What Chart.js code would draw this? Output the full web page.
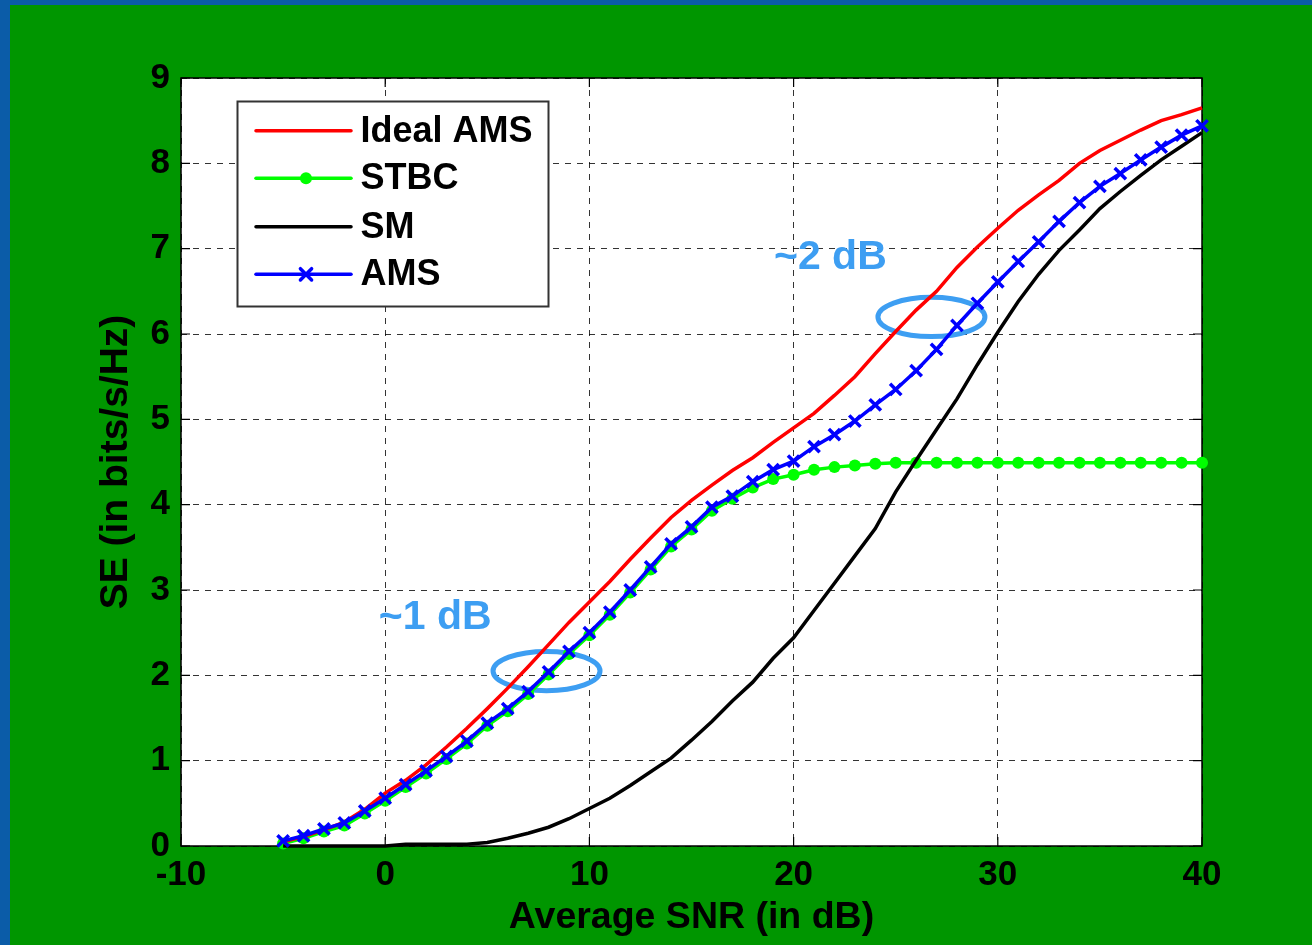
<!DOCTYPE html>
<html>
<head>
<meta charset="utf-8">
<script src="https://cdn.jsdelivr.net/npm/chart.js@4.4.0/dist/chart.umd.min.js"></script>
<style>
  html, body { margin: 0; padding: 0; background: #0b5ca8; }
  #wrap { position: absolute; left: 10px; top: 5px; width: 1302px; height: 940px; background: #009600; }
  canvas { display: block; }
</style>
</head>
<body>
<div id="wrap"><canvas id="seChart" width="1302" height="940"></canvas></div>
<script>
// Average SNR (dB)
const snr = [-5, -4, -3, -2, -1, 0, 1, 2, 3, 4, 5, 6, 7, 8, 9, 10, 11, 12, 13, 14, 15, 16, 17, 18, 19, 20,
  21, 22, 23, 24, 25, 26, 27, 28, 29, 30, 31, 32, 33, 34, 35, 36, 37, 38, 39, 40];

// SE (bits/s/Hz)
const idealAms = [0.05, 0.11, 0.19, 0.28, 0.43, 0.62, 0.77, 0.95, 1.16, 1.38, 1.61, 1.85, 2.10, 2.36, 2.62, 2.86,
  3.10, 3.36, 3.61, 3.85, 4.05, 4.23, 4.40, 4.55, 4.73, 4.90, 5.07, 5.28, 5.50, 5.77, 6.03, 6.28, 6.50, 6.78,
  7.02, 7.24, 7.45, 7.63, 7.80, 8.00, 8.15, 8.27, 8.39, 8.50, 8.57, 8.65];
const stbc = [0.03, 0.09, 0.17, 0.24, 0.38, 0.53, 0.69, 0.85, 1.02, 1.20, 1.41, 1.58, 1.78, 2.01, 2.25, 2.47,
  2.71, 2.97, 3.24, 3.51, 3.71, 3.93, 4.07, 4.20, 4.30, 4.35, 4.41, 4.44, 4.46, 4.48, 4.49, 4.49, 4.49, 4.49,
  4.49, 4.49, 4.49, 4.49, 4.49, 4.49, 4.49, 4.49, 4.49, 4.49, 4.49, 4.49];
const sm = [0, 0, 0, 0, 0, 0, 0.02, 0.02, 0.02, 0.02, 0.04, 0.09, 0.15, 0.22, 0.32, 0.44,
  0.56, 0.71, 0.87, 1.03, 1.24, 1.46, 1.70, 1.92, 2.20, 2.44, 2.76, 3.08, 3.40, 3.72, 4.15, 4.52, 4.88, 5.24,
  5.64, 6.02, 6.38, 6.70, 6.98, 7.22, 7.47, 7.67, 7.86, 8.04, 8.20, 8.36];
const ams = [0.06, 0.12, 0.20, 0.27, 0.41, 0.56, 0.72, 0.88, 1.05, 1.23, 1.44, 1.61, 1.81, 2.04, 2.28, 2.50,
  2.74, 3.00, 3.27, 3.54, 3.74, 3.97, 4.10, 4.27, 4.41, 4.51, 4.68, 4.82, 4.98, 5.17, 5.35, 5.57, 5.82, 6.10,
  6.36, 6.61, 6.85, 7.08, 7.32, 7.54, 7.73, 7.88, 8.04, 8.19, 8.33, 8.44];

const xTicks = [-10, 0, 10, 20, 30, 40];
const yTicks = [0, 1, 2, 3, 4, 5, 6, 7, 8, 9];

const seriesNames = ['Ideal AMS', 'STBC', 'SM', 'AMS'];

// the "~1 dB" / "~2 dB" notes (data coordinates)
const noteText = ['~1 dB', '~2 dB'];
const noteTextX = [2.45, 21.8];
const noteTextY = [2.68, 6.9];
const ringX = [7.9, 26.75];
const ringY = [2.05, 6.2];
const ringRx = 2.62;
const ringRy = 0.23;

const FONT = "Arial, 'Liberation Sans', Helvetica, sans-serif";
const noteBlue = '#3d9ef2';

function toPoints(ys) {
  return snr.map((x, i) => ({ x: x, y: ys[i] }));
}

const plotDecor = {
  id: 'plotDecor',
  beforeDraw(chart) {
    const { ctx, chartArea: a } = chart;
    ctx.save();
    ctx.fillStyle = '#ffffff';
    ctx.fillRect(a.left, a.top, a.right - a.left, a.bottom - a.top);
    ctx.restore();
  },
  beforeDatasetsDraw(chart) {
    const { ctx, chartArea: a, scales } = chart;
    ctx.save();
    ctx.setLineDash([]);
    ctx.strokeStyle = '#000';
    ctx.lineWidth = 1.5;
    ctx.strokeRect(a.left, a.top, a.right - a.left, a.bottom - a.top);

    // inward tick marks like matlab
    ctx.lineWidth = 1.2;
    ctx.beginPath();
    xTicks.forEach(v => {
      const px = scales.x.getPixelForValue(v);
      ctx.moveTo(px, a.bottom); ctx.lineTo(px, a.bottom - 9);
      ctx.moveTo(px, a.top); ctx.lineTo(px, a.top + 9);
    });
    yTicks.forEach(v => {
      const py = scales.y.getPixelForValue(v);
      ctx.moveTo(a.left, py); ctx.lineTo(a.left + 9, py);
      ctx.moveTo(a.right, py); ctx.lineTo(a.right - 9, py);
    });
    ctx.stroke();

    ctx.strokeStyle = noteBlue;
    ctx.lineWidth = 5;
    ringX.forEach((rx, i) => {
      const cx = scales.x.getPixelForValue(rx);
      const cy = scales.y.getPixelForValue(ringY[i]);
      const w = scales.x.getPixelForValue(rx + ringRx) - cx;
      const h = cy - scales.y.getPixelForValue(ringY[i] + ringRy);
      ctx.beginPath();
      ctx.ellipse(cx, cy, w, h, 0, 0, Math.PI * 2);
      ctx.stroke();
    });

    ctx.fillStyle = noteBlue;
    ctx.font = 'bold 41px ' + FONT;
    ctx.textAlign = 'center';
    ctx.textBaseline = 'middle';
    noteText.forEach((t, i) => {
      ctx.fillText(t, scales.x.getPixelForValue(noteTextX[i]), scales.y.getPixelForValue(noteTextY[i]));
    });
    ctx.restore();
  },
  afterDraw(chart) {
    // legend box in the upper left of the plot
    const { ctx } = chart;
    const bx = 227.5, by = 96.5, bw = 311, bh = 205;
    ctx.save();
    ctx.fillStyle = '#ffffff';
    ctx.fillRect(bx, by, bw, bh);
    ctx.strokeStyle = '#333';
    ctx.lineWidth = 2;
    ctx.strokeRect(bx, by, bw, bh);

    const rows = [125.7, 173.3, 221.7, 269.3];
    chart.data.datasets.forEach((ds, i) => {
      const y = rows[i];
      ctx.strokeStyle = ds.borderColor;
      ctx.lineWidth = 3.5;
      ctx.lineCap = 'round';
      ctx.beginPath();
      ctx.moveTo(246, y);
      ctx.lineTo(341, y);
      ctx.stroke();
      if (ds.pointRadius > 0) {
        ctx.fillStyle = ds.pointBackgroundColor;
        ctx.strokeStyle = ds.pointBorderColor;
        ctx.lineWidth = ds.pointBorderWidth;
        ctx.beginPath();
        if (ds.pointStyle === 'circle') {
          ctx.arc(296, y, ds.pointRadius, 0, Math.PI * 2);
          ctx.fill();
        } else {
          const r = ds.pointRadius * 0.7;
          ctx.moveTo(296 - r, y - r); ctx.lineTo(296 + r, y + r);
          ctx.moveTo(296 - r, y + r); ctx.lineTo(296 + r, y - r);
          ctx.stroke();
        }
      }
      ctx.fillStyle = '#000';
      ctx.font = 'bold 36px ' + FONT;
      ctx.textAlign = 'left';
      ctx.textBaseline = 'middle';
      ctx.fillText(ds.label, 350.5, y + 1);
    });
    ctx.restore();
  }
};

const ctx = document.getElementById('seChart').getContext('2d');
const seChart = new Chart(ctx, {
  type: 'line',
  data: {
    datasets: [
      {
        label: seriesNames[0],
        data: toPoints(idealAms),
        borderColor: '#ff0000',
        borderWidth: 3.5,
        pointRadius: 0,
        order: 2
      },
      {
        label: seriesNames[1],
        data: toPoints(stbc),
        borderColor: '#00ff00',
        borderWidth: 3.5,
        pointStyle: 'circle',
        pointRadius: 6,
        pointBorderWidth: 0,
        pointBackgroundColor: '#00ff00',
        pointBorderColor: '#00ff00',
        order: 3
      },
      {
        label: seriesNames[2],
        data: toPoints(sm),
        borderColor: '#000000',
        borderWidth: 3.5,
        pointRadius: 0,
        order: 1
      },
      {
        label: seriesNames[3],
        data: toPoints(ams),
        borderColor: '#0000ff',
        borderWidth: 3.5,
        pointStyle: 'crossRot',
        pointRadius: 8,
        pointBorderWidth: 3.5,
        pointBackgroundColor: '#0000ff',
        pointBorderColor: '#0000ff',
        order: 0
      }
    ]
  },
  options: {
    responsive: false,
    animation: false,
    devicePixelRatio: 1,
    clip: false,
    elements: { line: { tension: 0 } },
    layout: { padding: { left: 79, top: 73, right: 110, bottom: 1 } },
    plugins: {
      legend: { display: false },
      tooltip: { enabled: false }
    },
    scales: {
      x: {
        type: 'linear',
        min: -10,
        max: 40,
        afterBuildTicks: s => { s.ticks = xTicks.map(v => ({ value: v })); },
        afterFit: s => { s.height = 98; },
        ticks: {
          color: '#000',
          padding: 8,
          autoSkip: false,
          maxRotation: 0,
          font: { family: FONT, size: 35, weight: 'bold' }
        },
        grid: { color: 'rgba(0,0,0,0.8)', lineWidth: 1, drawTicks: false },
        border: { display: false, dash: [6, 6] },
        title: {
          display: true,
          text: 'Average SNR (in dB)',
          color: '#000',
          font: { family: FONT, size: 37.5, weight: 'bold' }
        }
      },
      y: {
        type: 'linear',
        min: 0,
        max: 9,
        afterBuildTicks: s => { s.ticks = yTicks.map(v => ({ value: v })); },
        afterFit: s => { s.width = 92; },
        ticks: {
          color: '#000',
          padding: 11,
          font: { family: FONT, size: 35, weight: 'bold' }
        },
        grid: { color: 'rgba(0,0,0,0.8)', lineWidth: 1, drawTicks: false },
        border: { display: false, dash: [6, 6] },
        title: {
          display: true,
          text: 'SE (in bits/s/Hz)',
          color: '#000',
          font: { family: FONT, size: 39, weight: 'bold' }
        }
      }
    }
  },
  plugins: [plotDecor]
});
</script>
</body>
</html>
